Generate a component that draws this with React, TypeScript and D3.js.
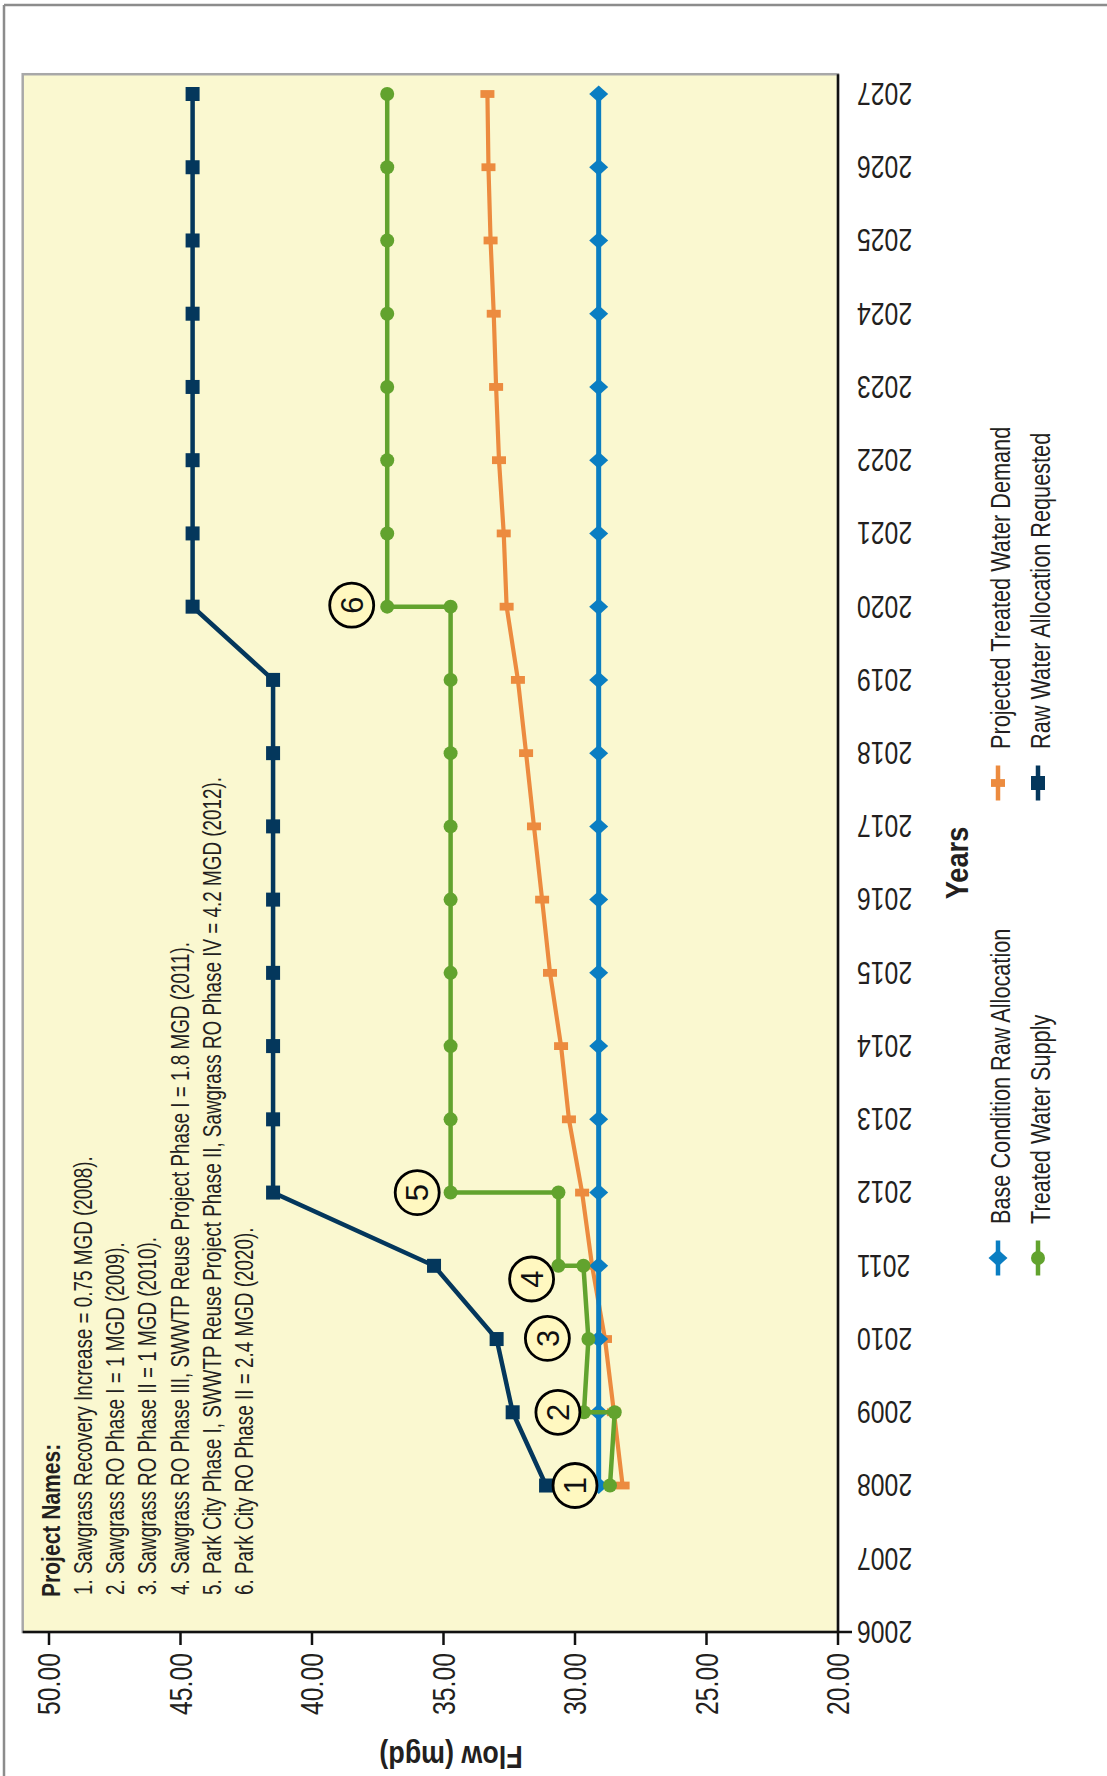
import React from "react";
import * as d3 from "d3";

// ---------- data ----------
const years = [2008, 2009, 2010, 2011, 2012, 2013, 2014, 2015, 2016, 2017, 2018, 2019, 2020, 2021, 2022, 2023, 2024, 2025, 2026, 2027];
const baseAllocation = [29.1, 29.1, 29.1, 29.1, 29.1, 29.1, 29.1, 29.1, 29.1, 29.1, 29.1, 29.1, 29.1, 29.1, 29.1, 29.1, 29.1, 29.1, 29.1, 29.1];
const demandValues = [28.19, 28.52, 28.86, 29.35, 29.73, 30.23, 30.53, 30.95, 31.25, 31.56, 31.86, 32.17, 32.6, 32.71, 32.89, 33.0, 33.09, 33.21, 33.29, 33.33];
const requestedValues = [31.1, 32.37, 32.98, 35.36, 41.48, 41.48, 41.48, 41.48, 41.48, 41.48, 41.48, 41.48, 44.54, 44.54, 44.54, 44.54, 44.54, 44.54, 44.54, 44.54];
const supplyYears = [2008, 2009, 2009, 2010, 2011, 2011, 2012, 2012, 2013, 2014, 2015, 2016, 2017, 2018, 2019, 2020, 2020, 2021, 2022, 2023, 2024, 2025, 2026, 2027];
const supplyValues = [28.67, 28.49, 29.66, 29.49, 29.68, 30.63, 30.63, 34.73, 34.73, 34.73, 34.73, 34.73, 34.73, 34.73, 34.73, 34.73, 37.14, 37.14, 37.14, 37.14, 37.14, 37.14, 37.14, 37.14];

const flowTicks = [50, 45, 40, 35, 30, 25, 20];
const yearTicks = [2006, 2007, 2008, 2009, 2010, 2011, 2012, 2013, 2014, 2015, 2016, 2017, 2018, 2019, 2020, 2021, 2022, 2023, 2024, 2025, 2026, 2027];

const calloutLabels = ["1", "2", "3", "4", "5", "6"];
const calloutYears = [2008, 2009, 2010.01, 2010.82, 2012, 2020.02];
const calloutValues = [30.0, 30.65, 31.05, 31.65, 36.0, 38.49];

const projectTitle = "Project Names:";
const projectNames = [
  "1. Sawgrass Recovery Increase = 0.75 MGD (2008).",
  "2. Sawgrass RO Phase I = 1 MGD (2009).",
  "3. Sawgrass RO Phase II = 1 MGD (2010).",
  "4. Sawgrass RO Phase III, SWWTP Reuse Project Phase I = 1.8 MGD (2011).",
  "5. Park City Phase I, SWWTP Reuse Project Phase II, Sawgrass RO Phase IV = 4.2 MGD (2012).",
  "6. Park City RO Phase II = 2.4 MGD (2020).",
];

const legendNames = [
  "Base Condition Raw Allocation",
  "Treated Water Supply",
  "Projected Treated Water Demand",
  "Raw Water Allocation Requested",
];

// ---------- style ----------
const W = 1107;
const H = 1776;
const FONT = "'Liberation Sans', Arial, sans-serif";
const TEXT = "#231f20";
const BLUE = "#0a7ec2";
const ORANGE = "#ec8b3f";
const GREEN = "#62a32e";
const NAVY = "#04375c";
const BG = "#faf8d0";

// chart is drawn unrotated (width H, height W) and then turned 90° CCW
const x = d3.scaleLinear().domain([2006, 2027]).range([144, 1682]);
const y = d3.scaleLinear().domain([20, 50]).range([838, 49]);
const X_END = 2027.27;
const Y_TOP = 51;

type TProps = {
  x: number;
  y: number;
  size: number;
  sx: number;
  rot?: number;
  anchor?: "start" | "middle" | "end";
  bold?: boolean;
  dy?: string;
  children: React.ReactNode;
};
// condensed text (horizontal squeeze emulates a narrow typeface)
function CText({ x: tx, y: ty, size, sx, rot = 0, anchor = "start", bold = false, dy, children }: TProps) {
  return (
    <text
      transform={`translate(${tx},${ty}) rotate(${rot}) scale(${sx},1)`}
      textAnchor={anchor}
      fontSize={size}
      fontWeight={bold ? "bold" : "normal"}
      dy={dy}
      fill={TEXT}
    >
      {children}
    </text>
  );
}

function Diamond({ cx, cy }: { cx: number; cy: number }) {
  return <path d={`M${cx},${cy - 9.5}L${cx + 8.5},${cy}L${cx},${cy + 9.5}L${cx - 8.5},${cy}Z`} fill={BLUE} />;
}
function Dash({ cx, cy }: { cx: number; cy: number }) {
  return <rect x={cx - 3.9} y={cy - 7} width={7.8} height={14} fill={ORANGE} />;
}
function Dot({ cx, cy }: { cx: number; cy: number }) {
  return <circle cx={cx} cy={cy} r={7} fill={GREEN} />;
}
function Square({ cx, cy }: { cx: number; cy: number }) {
  return <rect x={cx - 7} y={cy - 7} width={14} height={14} fill={NAVY} />;
}

export default function App() {
  const line = d3
    .line<[number, number]>()
    .x((d) => x(d[0]))
    .y((d) => y(d[1]));

  const basePts = years.map((yr, i) => [yr, baseAllocation[i]] as [number, number]);
  const demandPts = years.map((yr, i) => [yr, demandValues[i]] as [number, number]);
  const reqPts = years.map((yr, i) => [yr, requestedValues[i]] as [number, number]);
  const supplyPts = supplyYears.map((yr, i) => [yr, supplyValues[i]] as [number, number]);

  const x0 = x(2006);
  const x1 = x(X_END);
  const yTop = y(Y_TOP);
  const yBot = y(20);

  const legendMarkers = [
    (cx: number, cy: number) => <Diamond cx={cx} cy={cy} />,
    (cx: number, cy: number) => <Dot cx={cx} cy={cy} />,
    (cx: number, cy: number) => <Dash cx={cx} cy={cy} />,
    (cx: number, cy: number) => <Square cx={cx} cy={cy} />,
  ];
  const legendColors = [BLUE, GREEN, ORANGE, NAVY];
  const legendCol = [518, 518, 993, 993];
  const legendRow = [1010, 1050, 1010, 1050];

  return (
    <svg
      width={W}
      height={H}
      style={{ position: "absolute", left: 0, top: 0, display: "block", background: "#fff" }}
      fontFamily={FONT}
    >
      {/* outer frame */}
      <line x1={4} y1={5} x2={W} y2={5} stroke="#8c8c8c" strokeWidth={2.5} />
      <line x1={4} y1={5} x2={4} y2={H} stroke="#8c8c8c" strokeWidth={2.5} />

      <g transform={`translate(0,${H}) rotate(-90)`}>
        {/* plot background */}
        <rect x={x0} y={yTop} width={x1 - x0} height={yBot - yTop} fill={BG} stroke="#a8a8a8" strokeWidth={2.5} />

        {/* project names */}
        <CText x={179} y={60} size={26} sx={0.81} bold>
          {projectTitle}
        </CText>
        {projectNames.map((t, i) => (
          <CText key={t} x={181} y={92 + i * 32.2} size={25} sx={0.755}>
            {t}
          </CText>
        ))}

        {/* series */}
        <path d={line(demandPts) || ""} fill="none" stroke={ORANGE} strokeWidth={4.2} />
        {demandPts.map((d, i) => (
          <Dash key={"o" + i} cx={x(d[0])} cy={y(d[1])} />
        ))}
        <path d={line(basePts) || ""} fill="none" stroke={BLUE} strokeWidth={5} />
        {basePts.map((d, i) => (
          <Diamond key={"b" + i} cx={x(d[0])} cy={y(d[1])} />
        ))}
        <path d={line(supplyPts) || ""} fill="none" stroke={GREEN} strokeWidth={4.5} />
        {supplyPts.map((d, i) => (
          <Dot key={"g" + i} cx={x(d[0])} cy={y(d[1])} />
        ))}
        <path d={line(reqPts) || ""} fill="none" stroke={NAVY} strokeWidth={4.5} />
        {reqPts.map((d, i) => (
          <Square key={"n" + i} cx={x(d[0])} cy={y(d[1])} />
        ))}

        {/* callouts */}
        {calloutLabels.map((lab, i) => (
          <g key={"c" + lab}>
            <circle cx={x(calloutYears[i])} cy={y(calloutValues[i])} r={22} fill="#fff8c0" stroke="#000" strokeWidth={2.8} />
            <text
              x={x(calloutYears[i])}
              y={y(calloutValues[i])}
              dy="0.36em"
              textAnchor="middle"
              fontSize={31}
              fill="#111"
            >
              {lab}
            </text>
          </g>
        ))}

        {/* axes */}
        <line x1={x0} y1={yTop} x2={x0} y2={yBot + 14} stroke="#111" strokeWidth={2.5} />
        <line x1={x0} y1={yBot} x2={x1} y2={yBot} stroke="#111" strokeWidth={2.5} />
        {flowTicks.map((t) => (
          <g key={"ft" + t}>
            <line x1={x0} y1={y(t)} x2={x0 - 13} y2={y(t)} stroke="#111" strokeWidth={2.5} />
            <CText x={x0 - 21} y={y(t)} dy="0.36em" anchor="end" size={31} sx={0.8}>
              {d3.format(".2f")(t)}
            </CText>
          </g>
        ))}
        {yearTicks.map((t) => (
          <CText key={"yt" + t} x={x(t)} y={yBot + 19} rot={-90} dy="0.36em" anchor="end" size={31} sx={0.8}>
            {t}
          </CText>
        ))}

        {/* axis titles */}
        <CText x={30} y={451} rot={-90} anchor="middle" size={32} sx={0.84} bold>
          Flow (mgd)
        </CText>
        <CText x={(x0 + x(2027)) / 2} y={968} anchor="middle" size={32} sx={0.85} bold>
          Years
        </CText>

        {/* legend */}
        {legendNames.map((name, i) => (
          <g key={name}>
            <line
              x1={legendCol[i] - 17.5}
              y1={legendRow[i] - 12}
              x2={legendCol[i] + 17.5}
              y2={legendRow[i] - 12}
              stroke={legendColors[i]}
              strokeWidth={4.5}
            />
            {legendMarkers[i](legendCol[i], legendRow[i] - 12)}
            <CText x={legendCol[i] + 34} y={legendRow[i]} size={28} sx={0.775}>
              {name}
            </CText>
          </g>
        ))}
      </g>
    </svg>
  );
}
